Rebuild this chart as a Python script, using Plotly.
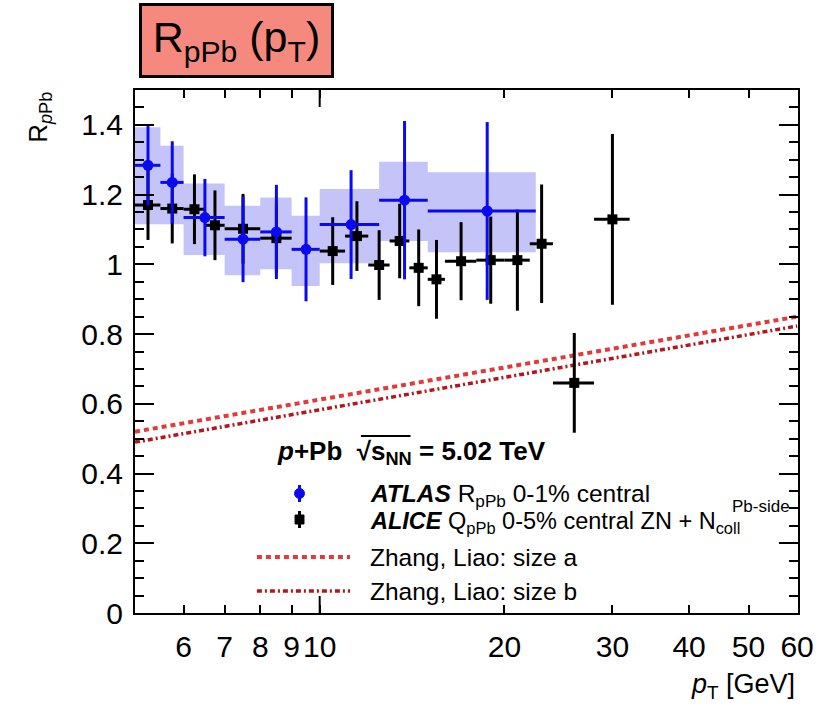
import math
import plotly.graph_objects as go

# ATLAS R_pPb, 0-1% central: bin edges, values, stat. errors, syst. band
atlas_lo = [5.0, 5.5, 6.0, 7.0, 8.0, 9.0, 10.0, 12.5, 15.0]
atlas_hi = [5.5, 6.0, 7.0, 8.0, 9.0, 10.0, 12.5, 15.0, 22.5]
atlas_val = [1.284, 1.235, 1.134, 1.072, 1.093, 1.043, 1.114, 1.184, 1.153]
atlas_stat = [0.115, 0.118, 0.111, 0.123, 0.135, 0.149, 0.156, 0.227, 0.255]
atlas_sys_lo = [1.115, 1.115, 1.027, 0.969, 0.986, 0.938, 1.003, 1.067, 1.035]
atlas_sys_hi = [1.393, 1.340, 1.232, 1.168, 1.192, 1.139, 1.216, 1.294, 1.264]

# ALICE Q_pPb, 0-5% central ZN
alice_lo = [5.0, 5.5, 6.0, 6.5, 7.0, 8.0, 10.0, 11.0, 12.0, 13.0, 14.0, 15.0, 16.0, 18.0, 20.0, 22.0, 24.0, 28.0]
alice_hi = [5.5, 6.0, 6.5, 7.0, 8.0, 9.0, 11.0, 12.0, 13.0, 14.0, 15.0, 16.0, 18.0, 20.0, 22.0, 24.0, 28.0, 32.0]
alice_val = [1.170, 1.160, 1.158, 1.112, 1.102, 1.075, 1.038, 1.081, 0.998, 1.067, 0.990, 0.957,
             1.009, 1.012, 1.012, 1.059, 0.660, 1.129]
alice_err = [0.100, 0.100, 0.100, 0.100, 0.100, 0.100, 0.097, 0.100, 0.100, 0.107, 0.110, 0.113,
             0.112, 0.125, 0.145, 0.170, 0.143, 0.245]

# Zhang, Liao model curves
model_pt = [5, 7, 10, 15, 20, 30, 40, 50, 60]
size_a = [0.520, 0.565, 0.612, 0.666, 0.704, 0.758, 0.796, 0.826, 0.850]
size_b = [0.490, 0.535, 0.583, 0.637, 0.676, 0.731, 0.769, 0.799, 0.823]

x_ticks = [6, 7, 8, 9, 10, 20, 30, 40, 50, 60]
y_ticks = [0, 0.2, 0.4, 0.6, 0.8, 1.0, 1.2, 1.4]
y_ticktext = ["0", "0.2", "0.4", "0.6", "0.8", "1", "1.2", "1.4"]

X_MIN, X_MAX = 5.0, 60.2
Y_MIN, Y_MAX = 0.0, 1.5

FONT = "Liberation Sans, Arial, Helvetica, sans-serif"
BLUE = "#0a0af0"
BAND = "rgba(196,196,248,1)"
RED_A = "#e23a3a"
RED_B = "#b3161c"

W, H = 826, 707
ML, MR, MT, MB = 135, 22, 90, 94
PW, PH = W - ML - MR, H - MT - MB


def px(xp):
    return (xp - ML) / PW


def py(yp):
    return (H - MB - yp) / PH


fig = go.Figure()

# systematic band boxes for ATLAS
bx, by = [], []
for lo, hi, slo, shi in zip(atlas_lo, atlas_hi, atlas_sys_lo, atlas_sys_hi):
    bx += [lo, hi, hi, lo, lo, None]
    by += [slo, slo, shi, shi, slo, None]
fig.add_trace(go.Scatter(x=bx, y=by, mode="lines", fill="toself", fillcolor=BAND,
                         line=dict(width=0, color=BAND), hoverinfo="skip", showlegend=False))

# model curves
fig.add_trace(go.Scatter(x=model_pt, y=size_a, mode="lines",
                         line=dict(color=RED_A, width=4, dash="5px,4px"), showlegend=False))
fig.add_trace(go.Scatter(x=model_pt, y=size_b, mode="lines",
                         line=dict(color=RED_B, width=3.5, dash="5px,3px,2px,3px"), showlegend=False))

# ALICE points
alice_c = [(lo + hi) / 2 for lo, hi in zip(alice_lo, alice_hi)]
fig.add_trace(go.Scatter(
    x=alice_c, y=alice_val, mode="markers",
    marker=dict(symbol="square", size=10, color="black"),
    error_x=dict(type="data", symmetric=False,
                 array=[h - c for h, c in zip(alice_hi, alice_c)],
                 arrayminus=[c - l for l, c in zip(alice_lo, alice_c)],
                 thickness=3, width=0, color="black"),
    error_y=dict(type="data", array=alice_err, thickness=3, width=0, color="black"),
    showlegend=False))

# ATLAS points
atlas_c = [(lo + hi) / 2 for lo, hi in zip(atlas_lo, atlas_hi)]
fig.add_trace(go.Scatter(
    x=atlas_c, y=atlas_val, mode="markers",
    marker=dict(symbol="circle", size=11, color=BLUE),
    error_x=dict(type="data", symmetric=False,
                 array=[h - c for h, c in zip(atlas_hi, atlas_c)],
                 arrayminus=[c - l for l, c in zip(atlas_lo, atlas_c)],
                 thickness=3, width=0, color=BLUE),
    error_y=dict(type="data", array=atlas_stat, thickness=3, width=0, color=BLUE),
    showlegend=False))

shapes = []
# long tick at the decade mark, bottom and top
for y0, y1 in [(0, 17 / PH), (1, 1 - 17 / PH)]:
    shapes.append(dict(type="line", xref="x", yref="paper", x0=10, x1=10, y0=y0, y1=y1,
                       line=dict(color="black", width=2)))

# legend samples
shapes.append(dict(type="line", xref="paper", yref="paper", x0=px(258), x1=px(352),
                   y0=py(557), y1=py(557), line=dict(color=RED_A, width=4, dash="5px,4px")))
shapes.append(dict(type="line", xref="paper", yref="paper", x0=px(258), x1=px(352),
                   y0=py(591), y1=py(591), line=dict(color=RED_B, width=3.5, dash="5px,3px,2px,3px")))
shapes.append(dict(type="line", xref="paper", yref="paper", x0=px(301), x1=px(301),
                   y0=py(485), y1=py(502), line=dict(color=BLUE, width=3)))
shapes.append(dict(type="circle", xref="paper", yref="paper", x0=px(296), x1=px(306),
                   y0=py(488.5), y1=py(498.5), fillcolor=BLUE, line=dict(color=BLUE, width=1)))
shapes.append(dict(type="line", xref="paper", yref="paper", x0=px(301), x1=px(301),
                   y0=py(511), y1=py(528), line=dict(color="black", width=3)))
shapes.append(dict(type="rect", xref="paper", yref="paper", x0=px(296.5), x1=px(305.5),
                   y0=py(515), y1=py(524), fillcolor="black", line=dict(color="black", width=1)))
# bar of the square root
shapes.append(dict(type="line", xref="paper", yref="paper", x0=px(363), x1=px(413),
                   y0=py(436), y1=py(436), line=dict(color="black", width=2)))

annotations = [
    # title box
    dict(xref="paper", yref="paper", x=px(237.5), y=py(40.5), xanchor="center", yanchor="middle",
         text="R<sub>pPb</sub> (p<sub>T</sub>)", showarrow=False,
         font=dict(family=FONT, size=43, color="black"),
         bgcolor="#f5897d", bordercolor="black", borderwidth=3, borderpad=0,
         width=189, height=69),
    # y title
    dict(xref="paper", yref="paper", x=px(38), y=py(117), xanchor="center", yanchor="middle",
         text="R<sub><i>p</i>Pb</sub>", textangle=-90, showarrow=False,
         font=dict(family=FONT, size=26, color="black")),
    # x title
    dict(xref="paper", yref="paper", x=px(803), y=py(686), xanchor="right", yanchor="middle",
         text="<i>p</i><sub>T</sub> [GeV]", showarrow=False,
         font=dict(family=FONT, size=27, color="black")),
    # legend header
    dict(xref="paper", yref="paper", x=px(276), y=py(452), xanchor="left", yanchor="middle",
         text="<b><i>p</i>+Pb  √s<sub>NN</sub> = 5.02 TeV</b>", showarrow=False,
         font=dict(family=FONT, size=26, color="black")),
    dict(xref="paper", yref="paper", x=px(370), y=py(495), xanchor="left", yanchor="middle",
         text="<b><i>ATLAS</i></b> R<sub>pPb</sub> 0-1% central", showarrow=False,
         font=dict(family=FONT, size=24.5, color="black")),
    dict(xref="paper", yref="paper", x=px(370), y=py(522), xanchor="left", yanchor="middle",
         text="<b><i>ALICE</i></b> Q<sub>pPb</sub> 0-5% central ZN + N<sub>coll</sub>", showarrow=False,
         font=dict(family=FONT, size=23.5, color="black")),
    dict(xref="paper", yref="paper", x=px(735), y=py(506), xanchor="left", yanchor="middle",
         text="Pb-side", showarrow=False,
         font=dict(family=FONT, size=17, color="black")),
    dict(xref="paper", yref="paper", x=px(370), y=py(557), xanchor="left", yanchor="middle",
         text="Zhang, Liao: size a", showarrow=False,
         font=dict(family=FONT, size=24.5, color="black")),
    dict(xref="paper", yref="paper", x=px(370), y=py(591), xanchor="left", yanchor="middle",
         text="Zhang, Liao: size b", showarrow=False,
         font=dict(family=FONT, size=24.5, color="black")),
]

fig.update_layout(
    width=W, height=H,
    margin=dict(l=ML, r=MR, t=MT, b=MB, pad=0),
    paper_bgcolor="white", plot_bgcolor="white",
    font=dict(family=FONT, color="black"),
    shapes=shapes, annotations=annotations,
    showlegend=False,
    xaxis=dict(type="log", range=[math.log10(X_MIN), math.log10(X_MAX)],
               tickmode="array", tickvals=x_ticks, ticktext=[str(v) for v in x_ticks],
               ticks="inside", ticklen=8, tickwidth=2, tickcolor="black",
               showline=True, linewidth=2, linecolor="black", mirror="ticks",
               showgrid=False, zeroline=False,
               tickfont=dict(family=FONT, size=30, color="black"), ticklabelstandoff=6),
    yaxis=dict(range=[Y_MIN, Y_MAX], tickmode="array", tickvals=y_ticks, ticktext=y_ticktext,
               ticks="inside", ticklen=19, tickwidth=2, tickcolor="black",
               minor=dict(tickmode="array", tickvals=[i * 0.05 for i in range(31)],
                          ticks="inside", ticklen=9, tickwidth=2, tickcolor="black"),
               showline=True, linewidth=2, linecolor="black", mirror="ticks",
               showgrid=False, zeroline=False,
               tickfont=dict(family=FONT, size=30, color="black"), ticklabelstandoff=4),
)

fig.write_html("out.html")
